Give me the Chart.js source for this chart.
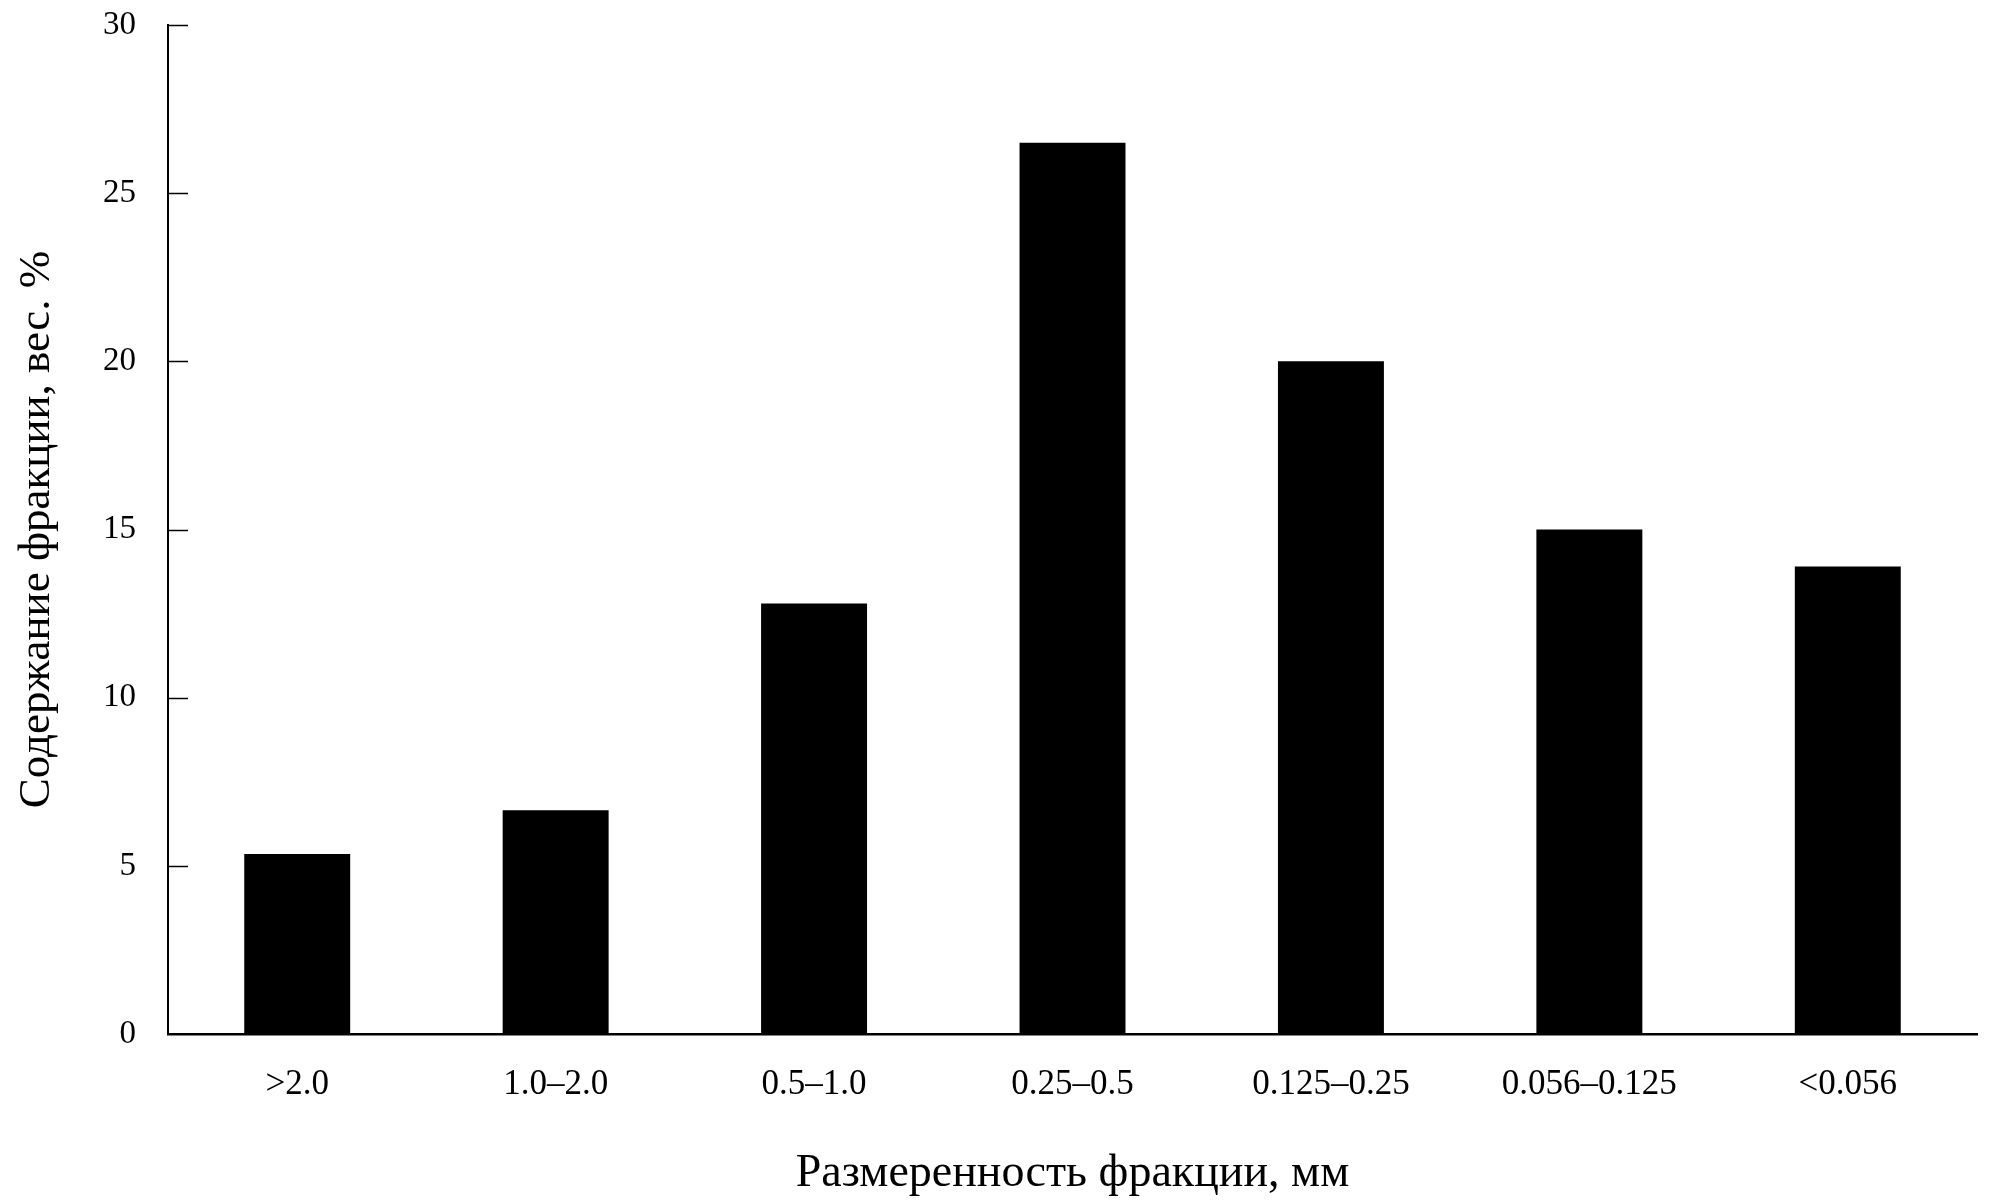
<!DOCTYPE html>
<html>
<head>
<meta charset="utf-8">
<script src="https://cdn.jsdelivr.net/npm/chart.js@4"></script>
<style>
  html, body { margin: 0; padding: 0; background: #fff; overflow: hidden; }
</style>
</head>
<body>
<canvas id="graficoFracoes" width="1992" height="1202"></canvas>
<script>
const fracoes = ['>2.0', '1.0–2.0', '0.5–1.0', '0.25–0.5', '0.125–0.25', '0.056–0.125', '<0.056'];
const conteudo = [5.35, 6.65, 12.8, 26.5, 20.0, 15.0, 13.9];
const yTicks = [0, 5, 10, 15, 20, 25, 30];

const FONTE = 'Liberation Serif, Times New Roman, serif';

// риски на оси Y внутрь области графика
const marcasInternas = {
  id: 'marcasInternas',
  afterDraw(chart) {
    const { ctx, chartArea, scales: { y } } = chart;
    ctx.save();
    ctx.strokeStyle = '#000';
    ctx.lineWidth = 1.5;
    y.ticks.forEach(t => {
      if (t.value === 0) return;
      const py = Math.round(y.getPixelForValue(t.value)) + 0.5;
      ctx.beginPath();
      ctx.moveTo(chartArea.left, py);
      ctx.lineTo(chartArea.left + 20, py);
      ctx.stroke();
    });
    ctx.restore();
  }
};

function renderGrafico() {
  const ctx = document.getElementById('graficoFracoes');
  new Chart(ctx, {
    type: 'bar',
    data: {
      labels: fracoes,
      datasets: [{
        data: conteudo,
        backgroundColor: '#000',
        borderWidth: 0,
        barPercentage: 0.41,
        categoryPercentage: 1.0
      }]
    },
    options: {
      responsive: false,
      animation: false,
      devicePixelRatio: 1,
      layout: { padding: { left: 0, right: 15, top: 25, bottom: 0 } },
      plugins: { legend: { display: false }, tooltip: { enabled: false } },
      scales: {
        x: {
          // отступ подписей делаем невидимыми рисками
          grid: { display: false, drawTicks: true, tickLength: 30, tickColor: 'rgba(0,0,0,0)' },
          border: { display: true, color: '#000', width: 2.5 },
          ticks: { color: '#000', padding: 0, font: { family: FONTE, size: 35 } },
          title: {
            display: true,
            text: 'Размеренность фракции, мм',
            color: '#000',
            font: { family: FONTE, size: 46 },
            padding: { top: 14, bottom: 0 }
          },
          afterFit: s => { s.height = 168; }
        },
        y: {
          min: 0,
          max: 30,
          afterBuildTicks: s => { s.ticks = yTicks.map(v => ({ value: v })); },
          grid: { display: false, drawTicks: true, tickLength: 32, tickColor: 'rgba(0,0,0,0)' },
          border: { display: true, color: '#000', width: 2 },
          ticks: { color: '#000', padding: 0, font: { family: FONTE, size: 33 } },
          title: {
            display: true,
            text: 'Содержание фракции, вес. %',
            color: '#000',
            font: { family: FONTE, size: 45 },
            padding: { top: 10, bottom: 0 }
          },
          afterFit: s => { s.width = 168; }
        }
      }
    },
    plugins: [marcasInternas]
  });
}

renderGrafico();
</script>
</body>
</html>
